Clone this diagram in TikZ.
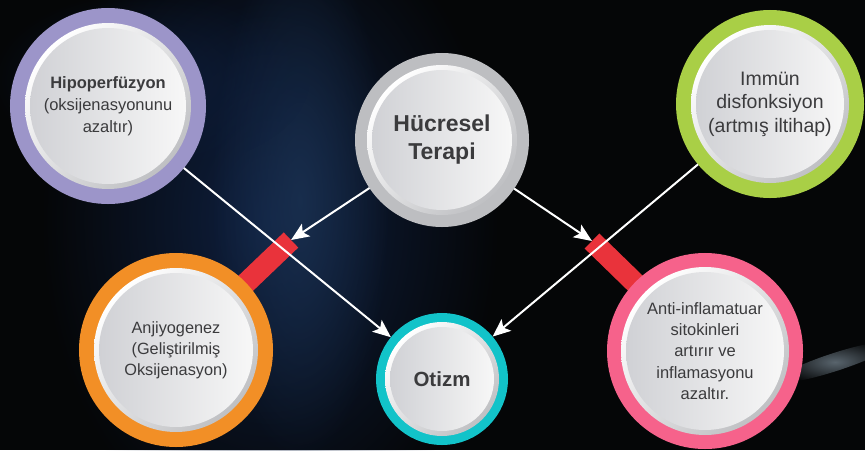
\documentclass[tikz,border=0pt]{standalone}
\usepackage{fontspec}
\setmainfont{Liberation Sans}
\usetikzlibrary{positioning,arrows.meta,fadings}

\definecolor{bgdark}{HTML}{050607}
\definecolor{bgnavy}{HTML}{0F2040}
\definecolor{bgblue}{HTML}{1B3252}
\definecolor{streakgray}{HTML}{7D8D99}
\definecolor{ringpurple}{HTML}{9C95C9}
\definecolor{ringgray}{HTML}{BDBEC1}
\definecolor{ringgreen}{HTML}{A9CF46}
\definecolor{ringorange}{HTML}{F28F26}
\definecolor{ringteal}{HTML}{12C3C9}
\definecolor{ringpink}{HTML}{F6628B}
\definecolor{barred}{HTML}{E9333B}
\definecolor{txtgray}{HTML}{3B3B3D}
\definecolor{fillgray}{HTML}{D0D1D5}
\definecolor{bevelgray}{HTML}{BFC0C3}

\tikzfading[name=glow,inner color=transparent!0,outer color=transparent!100]

\pgfdeclarelayer{back}
\pgfdeclarelayer{bars}
\pgfsetlayers{back,bars,main}

\begin{document}
\begin{tikzpicture}[x=1pt,y=-1pt,
                    >={Stealth[length=18pt,width=15pt,inset=4pt]},
                    bubble/.style n args={3}{circle,inner sep=0pt,minimum size=2*#2pt,outer sep=#3pt,
                        text=txtgray,align=center,
                        preaction={draw=#1,line width=2*#3pt},
                        path picture={
                            \shade[top color=white,bottom color=bevelgray,shading angle=45]
                                (path picture bounding box.south west) rectangle (path picture bounding box.north east);
                            \shade[left color=fillgray,right color=white!97!black]
                                (path picture bounding box.center) circle[radius=#2pt-5pt];
                        }},
                    link/.style={->,draw=white,line width=2pt},
                    redbar/.style={draw=barred,line width=21pt},
                    haze/.style={fill=#1,path fading=glow}]
    \useasboundingbox (0,0) rectangle (865,450);

    %Background
    \begin{pgfonlayer}{back}
        \fill[bgdark] (0,0) rectangle (865,450);
        \fill[haze=bgnavy] (270,220) ellipse[x radius=230,y radius=330];
        \fill[haze=bgblue,opacity=0.8] (300,200) ellipse[x radius=90,y radius=260];
        \fill[haze=bgnavy,opacity=0.7] (150,80) ellipse[x radius=160,y radius=90];
        \fill[haze=streakgray,opacity=0.7,rotate around={18:(835,362)}] (835,362) ellipse[x radius=60,y radius=9];
    \end{pgfonlayer}

    %Nodes
    \node[bubble={ringpurple}{83}{15},font=\fontsize{16.5}{22}\selectfont] (hipo) at (108,106)
        {\textbf{Hipoperfüzyon}\\(oksijenasyonunu\\azaltır)};
    \node[bubble={ringgray}{75}{12},font=\bfseries\fontsize{23}{28}\selectfont] (cell) at (442,140)
        {Hücresel\\Terapi};
    \node[bubble={ringgreen}{79}{15},font=\fontsize{19.5}{23.5}\selectfont] (immun) at (770,104)
        {Immün\\disfonksiyon\\(artmış iltihap)};
    \node[bubble={ringorange}{82}{15},font=\fontsize{16.3}{21}\selectfont] (anji) at (176,350)
        {Anjiyogenez\\(Geliştirilmiş\\Oksijenasyon)};
    \node[bubble={ringteal}{57}{9},font=\bfseries\fontsize{20.5}{24}\selectfont] (otizm) at (442,379)
        {Otizm};
    \node[bubble={ringpink}{84}{14},font=\fontsize{16.5}{21.3}\selectfont] (anti) at (705,351)
        {Anti-inflamatuar\\sitokinleri\\artırır ve\\inflamasyonu\\azaltır.};

    \coordinate (barL) at (291,240);
    \coordinate (barR) at (592,241);

    %Bars
    \begin{pgfonlayer}{bars}
        \draw[redbar] (anji.center) -- (barL);
        \draw[redbar] (anti.center) -- (barR);
    \end{pgfonlayer}

    %Lines
    \draw[link] (hipo) -- (otizm);
    \draw[link] (immun) -- (otizm);
    \draw[link] (cell) -- (barL);
    \draw[link] (cell) -- (barR);
\end{tikzpicture}
\end{document}
